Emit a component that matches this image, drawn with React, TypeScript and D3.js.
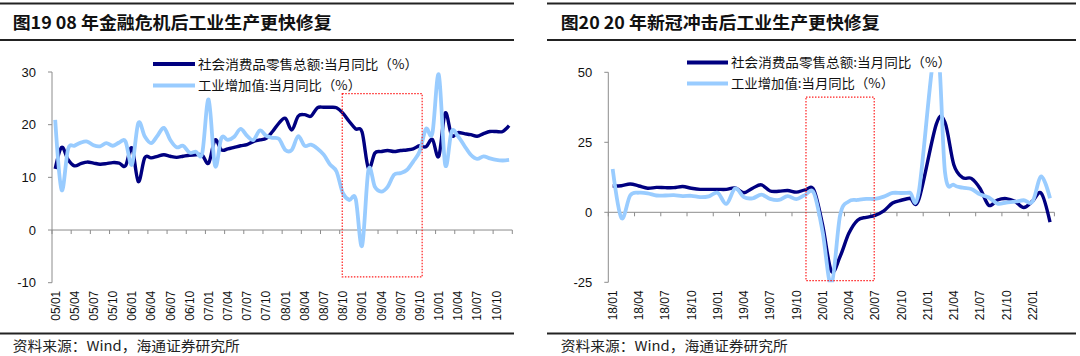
import React from 'react';
import * as d3 from 'd3';

// ---------- Data ----------
// Left chart: monthly, 2005/01 – 2010/12
const leftTickLabels = [
  '05/01', '05/04', '05/07', '05/10', '06/01', '06/04', '06/07', '06/10',
  '07/01', '07/04', '07/07', '07/10', '08/01', '08/04', '08/07', '08/10',
  '09/01', '09/04', '09/07', '09/10', '10/01', '10/04', '10/07', '10/10',
];
const leftRetail: (number | null)[] = [
  11.6, 15.7, 13.4, 12.2, 12.6, 12.9, 12.7, 12.5, 12.6, 12.8, 12.7, 12.2,
  15.6, 9.2, 13.7, 13.7, 14.0, 14.3, 14.0, 13.8, 14.0, 14.2, 14.3, 14.2,
  12.7, 17.1, 15.2, 15.4, 15.7, 16.0, 16.2, 16.8, 17.1, 17.4, 18.7, 20.3,
  21.2, 19.0, 21.6, 21.9, 21.6, 23.2, 23.3, 23.3, 23.2, 22.2, 20.6, 19.2,
  18.6, 11.7, 14.6, 14.9, 15.1, 14.9, 15.1, 15.2, 15.4, 16.0, 15.8, 17.2,
  14.0, 22.2, 18.0, 18.5, 18.3, 18.1, 17.8, 18.3, 18.7, 18.7, 18.7, 19.8,
];
const leftIndustry: (number | null)[] = [
  20.9, 7.6, 15.3, 16.0, 16.6, 16.8, 16.1, 15.9, 16.5, 16.0, 16.6, 16.8,
  12.4, 20.3, 17.8, 16.5, 17.9, 19.4, 17.1, 15.7, 16.0, 14.7, 14.9, 14.6,
  24.8, 12.2, 17.5, 17.1, 17.7, 19.2, 17.9, 17.1, 18.9, 17.9, 17.5, 17.3,
  15.2, 15.2, 17.8, 16.0, 16.2, 15.5, 14.3, 12.4, 11.1, 7.0, 5.7, 5.9,
  -3.0, 11.4, 8.2, 7.3, 8.2, 10.5, 10.8, 11.4, 13.0, 14.9, 19.2, 18.4,
  29.5, 12.4, 18.7, 17.8, 16.0, 14.3, 13.5, 14.0, 13.6, 13.3, 13.2, 13.3,
];

// Right chart: monthly, 2018/01 – 2022/03
const rightTickLabels = [
  '18/01', '18/04', '18/07', '18/10', '19/01', '19/04', '19/07', '19/10',
  '20/01', '20/04', '20/07', '20/10', '21/01', '21/04', '21/07', '21/10', '22/01',
];
const rightRetail: (number | null)[] = [
  9.4, 9.5, 10.1, 9.4, 8.6, 8.9, 8.8, 8.8, 9.2, 8.6, 8.2, 8.2,
  8.2, 8.2, 8.7, 7.0, 8.6, 9.8, 7.6, 7.5, 7.8, 7.2, 8.0, 8.0,
  -4.5, -21.0, -15.8, -7.5, -2.8, -1.8, -1.1, 0.5, 3.3, 4.3, 5.0, 4.6,
  null, 31.5, 32.0, 17.0, 12.4, 12.1, 8.5, 2.5, 4.4, 4.9, 3.9, 1.7,
  4.0, 6.8, -3.5,
];
const rightIndustry: (number | null)[] = [
  15.5, -2.0, 6.0, 7.0, 6.8, 6.0, 6.0, 6.1, 5.8, 5.9, 5.4, 5.7,
  7.0, 3.0, 8.5, 5.4, 5.0, 6.3, 4.8, 4.4, 5.8, 4.7, 6.2, 6.9,
  -7.0, -25.9, -1.1, 3.9, 4.4, 4.8, 4.8, 5.6, 6.9, 6.9, 7.0, 7.3,
  null, 60.0, 14.1, 9.8, 8.8, 8.3, 6.4, 5.3, 3.1, 3.5, 3.8, 4.3,
  3.8, 12.8, 5.0,
];

const leftYTicks = [-10, 0, 10, 20, 30];
const rightYTicks = [-25, 0, 25, 50];

const seriesNames = ['社会消费品零售总额:当月同比（%）', '工业增加值:当月同比（%）'];
const leftTitle = '图19 08 年金融危机后工业生产更快修复';
const rightTitle = '图20 20 年新冠冲击后工业生产更快修复';
const sourceText = '资料来源：Wind，海通证券研究所';

// highlight boxes in data coordinates: [startCategory, endCategory, topValue, bottomValue]
const leftHighlight = [45.4, 57.9, 25.9, -8.9];
const rightHighlight = [22.6, 30.4, 41.1, -24.4];

// ---------- Styles ----------
const DARK = '#000080';
const LIGHT = '#99ccff';
const AXIS = '#8c8c8c';
const CJK = '"Noto Sans CJK SC", "Noto Sans", sans-serif';
const LATIN = '"Liberation Sans", Arial, sans-serif';

type PanelProps = {
  id: string;
  title: string;
  ruleX: [number, number];
  titleX: number;
  plotX: [number, number];
  plotY: [number, number];
  yDomain: [number, number];
  yTicks: number[];
  tickLabels: string[];
  series: (number | null)[][];
  highlight: number[];
  legendX: [number, number];
  legendY: [number, number];
};

function Panel(p: PanelProps) {
  const n = p.series[0].length;
  const x = d3.scaleLinear().domain([0, n]).range(p.plotX);
  const y = d3.scaleLinear().domain(p.yDomain).range(p.plotY);
  const y0 = y(0);
  const line = d3
    .line<{ i: number; v: number }>()
    .x((d) => x(d.i + 0.5))
    .y((d) => y(d.v))
    .curve(d3.curveCardinal.tension(0));
  const colors = [DARK, LIGHT];
  const widths = [3.4, 3.8];
  const tickIdx = d3.range(0, n + 1, 3).concat(n % 3 === 0 ? [] : [n]);
  const [hx0, hx1, hy0, hy1] = p.highlight;
  const clipId = `clip-${p.id}`;
  return (
    <g>
      {/* header rules and title */}
      <line x1={p.ruleX[0]} x2={p.ruleX[1]} y1={3.5} y2={3.5} stroke="#222" strokeWidth={2} />
      <text x={p.titleX} y={29} fontFamily={CJK} fontWeight={700} fontSize={17} fill="#111"
        textLength={319} lengthAdjust="spacingAndGlyphs">{p.title}</text>
      <line x1={p.ruleX[0]} x2={p.ruleX[1]} y1={40} y2={40} stroke="#222" strokeWidth={2} />

      <defs>
        <clipPath id={clipId}>
          <rect x={p.plotX[0]} y={p.plotY[1]} width={p.plotX[1] - p.plotX[0] + 6}
            height={p.plotY[0] - p.plotY[1]} />
        </clipPath>
      </defs>

      {/* y axis */}
      <line x1={p.plotX[0]} x2={p.plotX[0]} y1={p.plotY[0]} y2={p.plotY[1]} stroke={AXIS} strokeWidth={1} />
      {p.yTicks.map((t) => (
        <g key={t}>
          <line x1={p.plotX[0] - 4} x2={p.plotX[0]} y1={y(t)} y2={y(t)} stroke={AXIS} strokeWidth={1} />
          <text x={p.plotX[0] - 16} y={y(t)} dy="0.36em" textAnchor="end" fontFamily={LATIN}
            fontSize={13} fill="#111">{t}</text>
        </g>
      ))}

      {/* x axis at zero */}
      <line x1={p.plotX[0]} x2={p.plotX[1]} y1={y0} y2={y0} stroke={AXIS} strokeWidth={1} />
      {tickIdx.map((k) => (
        <line key={k} x1={x(k)} x2={x(k)} y1={y0} y2={y0 + 4} stroke={AXIS} strokeWidth={1} />
      ))}
      {p.tickLabels.map((lab, j) => {
        const cx = x(j * 3 + 0.5);
        const ty = p.plotY[0] + 8;
        return (
          <text key={lab} transform={`translate(${cx},${ty}) rotate(-90)`} textAnchor="end"
            dy="0.36em" fontFamily={LATIN} fontSize={12} fill="#111">{lab}</text>
        );
      })}

      {/* series */}
      <g clipPath={`url(#${clipId})`}>
        {p.series.map((s, si) => {
          const pts = s
            .map((v, i) => ({ i, v }))
            .filter((d) => d.v !== null) as { i: number; v: number }[];
          return (
            <path key={si} d={line(pts) ?? ''} fill="none" stroke={colors[si]}
              strokeWidth={widths[si]} strokeLinejoin="round" />
          );
        })}
      </g>

      {/* highlight box */}
      <rect x={x(hx0)} y={y(hy0)} width={x(hx1) - x(hx0)} height={y(hy1) - y(hy0)}
        fill="none" stroke="#ff2020" strokeWidth={1.2} strokeDasharray="1.5 1.5" />

      {/* legend */}
      {seriesNames.map((name, si) => (
        <g key={name}>
          <line x1={p.legendX[0]} x2={p.legendX[1]} y1={p.legendY[si]} y2={p.legendY[si]}
            stroke={colors[si]} strokeWidth={widths[si] + 0.4} />
          <text x={p.legendX[1] + 3} y={p.legendY[si]} dy="0.38em" fontFamily={CJK} fontSize={13}
            fill="#111" textLength={si === 0 ? 220 : 163} lengthAdjust="spacingAndGlyphs">{name}</text>
        </g>
      ))}

      {/* footer */}
      <line x1={p.ruleX[0]} x2={p.ruleX[1]} y1={333.5} y2={333.5} stroke="#222" strokeWidth={2} />
      <text x={p.titleX} y={351} fontFamily={CJK} fontSize={13.5} fill="#222"
        textLength={227} lengthAdjust="spacingAndGlyphs">{sourceText}</text>
    </g>
  );
}

export default function App() {
  return (
    <svg width={1080} height={356} viewBox="0 0 1080 356"
      style={{ position: 'absolute', left: 0, top: 0, background: '#fff' }}>
      <rect x={0} y={0} width={1080} height={356} fill="#fff" />
      <Panel
        id="left"
        title={leftTitle}
        ruleX={[0, 514]}
        titleX={12.7}
        plotX={[52, 512.3]}
        plotY={[282.7, 72]}
        yDomain={[-10, 30]}
        yTicks={leftYTicks}
        tickLabels={leftTickLabels}
        series={[leftRetail, leftIndustry]}
        highlight={leftHighlight}
        legendX={[153, 195]}
        legendY={[64, 85.5]}
      />
      <Panel
        id="right"
        title={rightTitle}
        ruleX={[547, 1076]}
        titleX={560.7}
        plotX={[608.3, 1054.4]}
        plotY={[282.3, 72.3]}
        yDomain={[-25, 50]}
        yTicks={rightYTicks}
        tickLabels={rightTickLabels}
        series={[rightRetail, rightIndustry]}
        highlight={rightHighlight}
        legendX={[687, 728]}
        legendY={[62.5, 83.5]}
      />
    </svg>
  );
}
